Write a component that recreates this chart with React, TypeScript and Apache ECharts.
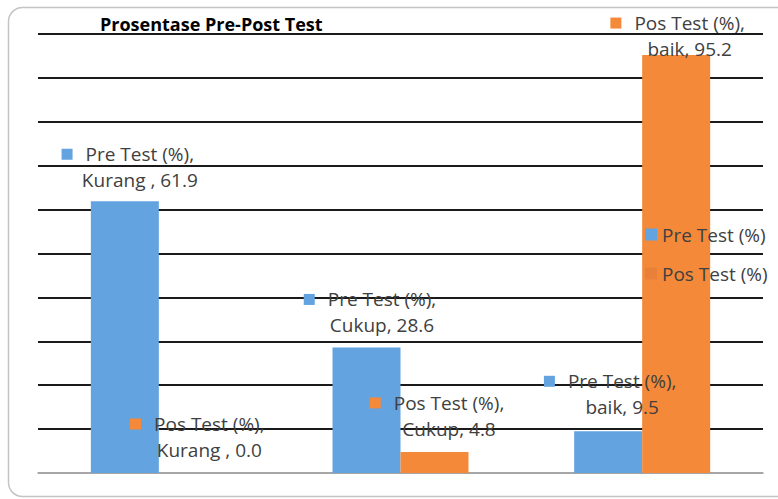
import React, { useEffect, useRef } from "react";
import * as echarts from "echarts";

const categories = ["Kurang ", "Cukup", "baik"];
const seriesNames = ["Pre Test (%)", "Pos Test (%)"];
const preValues = [61.9, 28.6, 9.5];
const posValues = [0.0, 4.8, 95.2];
const yMin = 0;
const yMax = 100;
const yInterval = 10;
const chartTitle = "Prosentase Pre-Post Test";

// label offsets (x, y) relative to the bar top, kept apart from the data
const preLabelOffsets = [
  [15, -8],
  [15.5, -9],
  [14, -11],
];
const posLabelOffsets = [
  [16.5, -10],
  [14.5, -10],
  [13.5, 7],
];

const BLUE = "#63A3DF";
const ORANGE = "#F5893A";
const FONT = "'Open Sans', 'Liberation Sans', sans-serif";

function richFor(color: string) {
  return {
    m: { width: 11, height: 11, backgroundColor: color, verticalAlign: "middle" },
    g: { width: 13 },
    s: { width: 24 },
    t: { fontSize: 19, color: "#404040", lineHeight: 26, fontFamily: FONT },
  };
}

function fmt(p: any) {
  return `{m|}{g|}{t|${p.seriesName},}{s|}\n{t|${p.name}, ${Number(p.value).toFixed(1)}}`;
}

export default function App() {
  const ref = useRef<HTMLDivElement>(null);
  useEffect(() => {
    if (!ref.current) return;
    const chart = echarts.init(ref.current, undefined, { renderer: "svg" });
    const gridColors = [] as string[];
    for (let v = yMin; v <= yMax; v += yInterval) gridColors.push(v === yMin ? "#A6A6A6" : "#1A1A1A");
    chart.setOption({
      animation: false,
      backgroundColor: "#ffffff",
      textStyle: { fontFamily: FONT },
      title: {
        text: chartTitle,
        left: 100,
        top: 15,
        padding: 0,
        textStyle: { fontSize: 18, fontWeight: "bold", color: "#000", fontFamily: FONT },
      },
      graphic: [
        {
          type: "rect",
          z: -10,
          shape: { x: 8.5, y: 7.5, width: 790, height: 489, r: 14 },
          style: { fill: "none", stroke: "#C4C4C4", lineWidth: 1.5 },
          silent: true,
        },
      ],
      legend: {
        orient: "vertical",
        left: 645,
        top: 224,
        padding: 0,
        itemWidth: 12,
        itemHeight: 12,
        itemGap: 18,
        icon: "rect",
        data: [
          { name: seriesNames[0] },
          { name: seriesNames[1], itemStyle: { color: "#E9803A" } },
        ],
        textStyle: { fontSize: 19, lineHeight: 21, color: "#404040", fontFamily: FONT },
        z: 10,
      },
      grid: { left: 38, right: 15, top: 34, bottom: 26, containLabel: false },
      xAxis: {
        type: "category",
        data: categories,
        axisLabel: { show: false },
        axisTick: { show: false },
        axisLine: { show: true, lineStyle: { color: "#A6A6A6", width: 1.5 } },
      },
      yAxis: {
        type: "value",
        min: yMin,
        max: yMax,
        interval: yInterval,
        axisLabel: { show: false },
        axisLine: { show: false },
        axisTick: { show: false },
        splitLine: { show: true, lineStyle: { color: gridColors, width: 2 } },
      },
      series: [
        {
          name: seriesNames[0],
          type: "bar",
          barWidth: 68,
          barGap: "0%",
          itemStyle: { color: BLUE },
          z: 3,
          data: preValues.map((v, i) => ({
            value: v,
            label: { offset: preLabelOffsets[i] },
          })),
          label: {
            show: true,
            position: "top",
            distance: 0,
            align: "center",
            verticalAlign: "bottom",
            formatter: fmt,
            rich: richFor(BLUE),
          },
        },
        {
          name: seriesNames[1],
          type: "bar",
          barWidth: 68,
          barGap: "0%",
          itemStyle: { color: ORANGE },
          z: 3,
          data: posValues.map((v, i) => ({
            value: v,
            label: { offset: posLabelOffsets[i] },
          })),
          label: {
            show: true,
            position: "top",
            distance: 0,
            align: "center",
            verticalAlign: "bottom",
            formatter: fmt,
            rich: richFor(ORANGE),
          },
        },
      ],
    });
    return () => chart.dispose();
  }, []);
  return (
    <div
      ref={ref}
      style={{ position: "fixed", left: 0, top: 0, width: 778, height: 499 }}
    />
  );
}
